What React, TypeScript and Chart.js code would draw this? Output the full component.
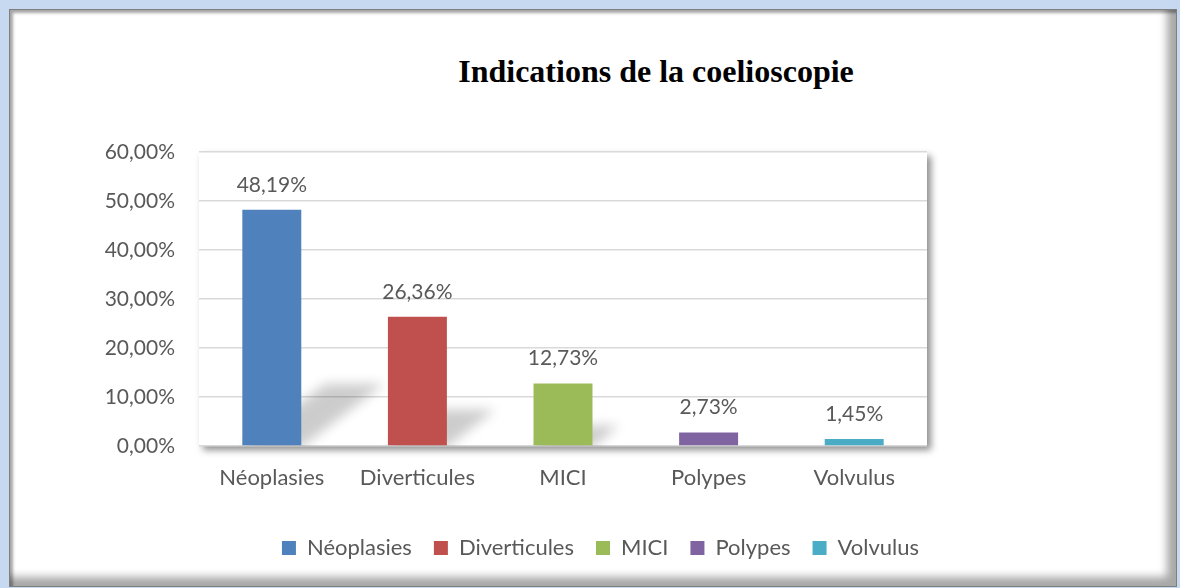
import React, { useEffect, useRef } from "react";
import { Chart, registerables } from "chart.js";

Chart.register(...registerables);

const titleText = "Indications de la coelioscopie";
const categories = ["Néoplasies", "Diverticules", "MICI", "Polypes", "Volvulus"];
const values = [48.19, 26.36, 12.73, 2.73, 1.45];
const barColors = ["#4F81BD", "#C0504D", "#9BBB59", "#8064A2", "#4BACC6"];
const yMin = 0;
const yMax = 60;
const yStep = 10;

const TEXT = "#595959";
const FONT = "Lato, 'Open Sans', sans-serif";
const LEGEND_SHIFT = 127;

const fmt = (v: number) => v.toFixed(2).replace(".", ",") + "%";

const customPlugin = {
  id: "customDecor",
  afterLayout(chart: any) {
    const lg = chart.legend;
    if (lg) {
      lg.left += LEGEND_SHIFT;
      lg.right += LEGEND_SHIFT;
    }
  },
  beforeDraw(chart: any) {
    const { ctx, chartArea } = chart;
    const { left, top, right, bottom } = chartArea;
    ctx.save();
    ctx.shadowColor = "rgba(0,0,0,0.45)";
    ctx.shadowBlur = 7;
    ctx.shadowOffsetX = 4;
    ctx.shadowOffsetY = 4;
    ctx.fillStyle = "#ffffff";
    ctx.fillRect(left, top, right - left, bottom - top);
    ctx.restore();
  },
  beforeDatasetsDraw(chart: any) {
    // soft perspective shadows cast by the bars
    const { ctx, chartArea } = chart;
    const meta = chart.getDatasetMeta(0);
    const off = 5000;
    ctx.save();
    ctx.beginPath();
    ctx.rect(chartArea.left, chartArea.top, chartArea.right - chartArea.left, chartArea.bottom - chartArea.top);
    ctx.clip();
    ctx.shadowColor = "rgba(0,0,0,0.2)";
    ctx.shadowBlur = 12;
    ctx.shadowOffsetX = off;
    ctx.shadowOffsetY = 0;
    ctx.fillStyle = "#000";
    meta.data.forEach((bar: any) => {
      const h = bar.base - bar.y;
      if (h < 30) return;
      const hs = 0.24 * h + 5;
      const dx = hs * 1.35;
      const l = bar.x - bar.width / 2 - off;
      const r = bar.x + bar.width / 2 - off;
      ctx.beginPath();
      ctx.moveTo(l, bar.base + 2);
      ctx.lineTo(r, bar.base + 2);
      ctx.lineTo(r + dx, bar.base - hs);
      ctx.lineTo(l + dx, bar.base - hs);
      ctx.closePath();
      ctx.fill();
    });
    ctx.restore();
  },
  afterDatasetsDraw(chart: any) {
    const { ctx } = chart;
    const meta = chart.getDatasetMeta(0);
    ctx.save();
    ctx.font = `21px ${FONT}`;
    ctx.fillStyle = TEXT;
    ctx.textAlign = "center";
    ctx.textBaseline = "middle";
    meta.data.forEach((bar: any, i: number) => {
      ctx.fillText(fmt(values[i]), bar.x, bar.y - 25);
    });
    ctx.restore();
  },
};

export default function App() {
  const canvasRef = useRef<HTMLCanvasElement | null>(null);

  useEffect(() => {
    const canvas = canvasRef.current;
    if (!canvas) return;
    const chart = new Chart(canvas, {
      type: "bar",
      data: {
        labels: categories,
        datasets: [
          {
            data: values,
            backgroundColor: barColors,
            borderWidth: 0,
            barPercentage: 0.405,
            categoryPercentage: 1,
          },
        ],
      },
      options: {
        responsive: false,
        animation: false,
        maintainAspectRatio: false,
        layout: { padding: { left: 20, right: 253, top: 152, bottom: 19 } },
        plugins: {
          title: { display: false },
          tooltip: { enabled: false },
          legend: {
            display: true,
            position: "bottom",
            labels: {
              boxWidth: 14,
              boxHeight: 14,
              padding: 22,
              color: TEXT,
              font: { family: FONT, size: 22 },
              generateLabels: () =>
                categories.map((c, i) => ({
                  text: c,
                  fillStyle: barColors[i],
                  strokeStyle: barColors[i],
                  lineWidth: 0,
                  hidden: false,
                  index: i,
                  datasetIndex: 0,
                  fontColor: TEXT,
                })),
            },
          },
        },
        scales: {
          x: {
            grid: { display: false, drawTicks: false },
            border: { display: false },
            ticks: {
              color: TEXT,
              font: { family: FONT, size: 22 },
              padding: 19,
              maxRotation: 0,
            },
            afterFit: (s: any) => {
              s.height = 69;
            },
          },
          y: {
            min: yMin,
            max: yMax,
            grid: { color: "#d9d9d9", lineWidth: 1.5, drawTicks: false },
            border: { display: false },
            ticks: {
              stepSize: yStep,
              color: TEXT,
              font: { family: FONT, size: 21 },
              padding: 24,
              callback: (v: any) => fmt(Number(v)),
            },
            afterFit: (s: any) => {
              s.width = 179;
            },
          },
        },
      },
      plugins: [customPlugin],
    });
    return () => chart.destroy();
  }, []);

  return (
    <div
      style={{
        position: "fixed",
        left: 0,
        top: 0,
        width: 1180,
        height: 588,
        background: "#c6d9f1",
        overflow: "hidden",
      }}
    >
      <div
        style={{
          position: "absolute",
          left: 9,
          top: 9,
          width: 1168,
          height: 578,
          boxSizing: "border-box",
          background: "#ffffff",
          border: "1px solid #7f7f7f",
          boxShadow:
            "inset 3px 3px 3px rgba(0,0,0,0.35), inset -9px -9px 9px rgba(0,0,0,0.35)",
        }}
      />
      <div
        style={{
          position: "absolute",
          left: 656,
          top: 55,
          transform: "translateX(-50%)",
          whiteSpace: "nowrap",
          fontFamily: "'Liberation Serif', 'Times New Roman', serif",
          fontWeight: "bold",
          fontSize: 32,
          lineHeight: "32px",
          color: "#000",
        }}
      >
        {titleText}
      </div>
      <canvas
        ref={canvasRef}
        width={1180}
        height={588}
        style={{ position: "absolute", left: 0, top: 0, width: 1180, height: 588 }}
      />
    </div>
  );
}
